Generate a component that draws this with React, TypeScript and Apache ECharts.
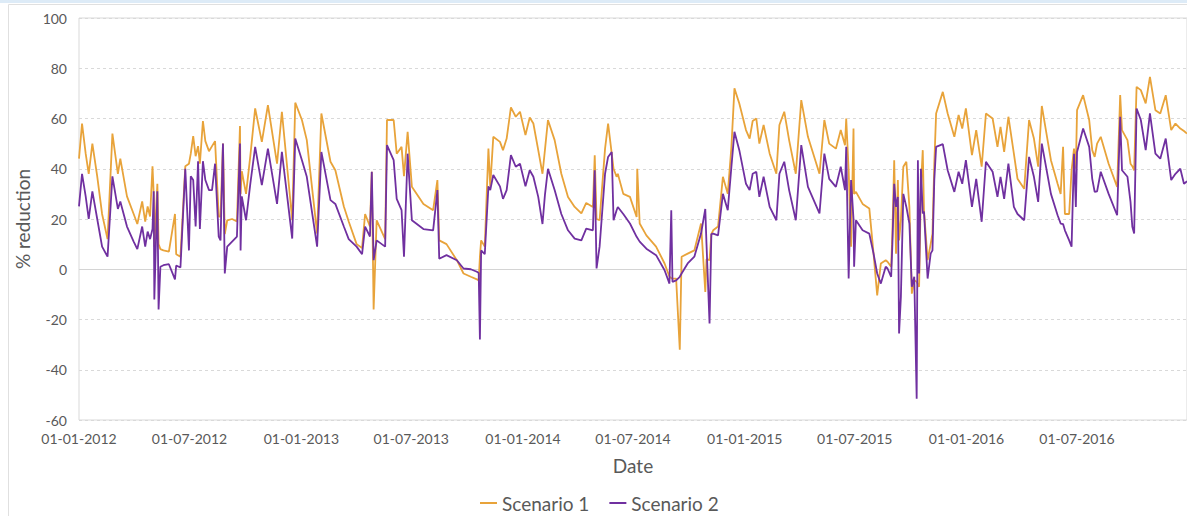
import React, { useEffect, useRef } from "react";
import * as echarts from "echarts";

const dates: string[] = [
  "2012-01-01","2012-01-06","2012-01-12","2012-01-17","2012-01-23","2012-01-31","2012-02-08","2012-02-17","2012-02-25","2012-03-05",
  "2012-03-09","2012-03-20","2012-03-31","2012-04-06","2012-04-14","2012-04-19","2012-04-23","2012-04-27","2012-05-01","2012-05-03",
  "2012-05-04","2012-05-09","2012-05-11","2012-05-14","2012-05-19","2012-05-28","2012-06-07","2012-06-09","2012-06-16","2012-06-24",
  "2012-06-30","2012-07-03","2012-07-07","2012-07-11","2012-07-15","2012-07-18","2012-07-23","2012-07-27","2012-08-02","2012-08-07",
  "2012-08-12","2012-08-18","2012-08-21","2012-08-25","2012-08-28","2012-09-01","2012-09-09","2012-09-17","2012-09-22","2012-09-23",
  "2012-09-25","2012-10-02","2012-10-09","2012-10-17","2012-10-28","2012-11-07","2012-11-22","2012-11-30","2012-12-17","2012-12-22",
  "2013-01-02","2013-01-10","2013-01-27","2013-02-03","2013-02-18","2013-02-26","2013-03-12","2013-03-20","2013-04-02","2013-04-11",
  "2013-04-16","2013-04-24","2013-04-27","2013-04-30","2013-05-05","2013-05-19","2013-05-22","2013-06-02","2013-06-07","2013-06-15",
  "2013-06-19","2013-06-25","2013-07-02","2013-07-21","2013-08-06","2013-08-13","2013-08-16","2013-08-28","2013-09-14","2013-09-25",
  "2013-10-07","2013-10-17","2013-10-20","2013-10-22","2013-10-24","2013-10-30","2013-11-05","2013-11-08","2013-11-13","2013-11-24",
  "2013-11-29","2013-12-05","2013-12-12","2013-12-20","2013-12-27","2014-01-05","2014-01-12","2014-01-18","2014-01-26","2014-02-02",
  "2014-02-06","2014-02-11","2014-02-22","2014-03-05","2014-03-16","2014-03-27","2014-04-07","2014-04-15","2014-04-26","2014-04-29",
  "2014-05-02","2014-05-07","2014-05-16","2014-05-21","2014-05-27","2014-05-30","2014-06-04","2014-06-06","2014-06-15","2014-06-26",
  "2014-07-07","2014-07-08","2014-07-12","2014-07-23","2014-08-08","2014-08-22","2014-08-30","2014-09-02","2014-09-04","2014-09-10",
  "2014-09-16","2014-09-19","2014-09-29","2014-10-10","2014-10-21","2014-10-28","2014-10-30","2014-11-04","2014-11-07","2014-11-10",
  "2014-11-18","2014-11-26","2014-12-04","2014-12-10","2014-12-15","2014-12-23","2015-01-03","2015-01-09","2015-01-14","2015-01-20",
  "2015-01-25","2015-02-01","2015-02-11","2015-02-22","2015-02-27","2015-03-07","2015-03-15","2015-03-26","2015-04-04","2015-04-15",
  "2015-05-04","2015-05-12","2015-05-20","2015-05-31","2015-06-08","2015-06-15","2015-06-17","2015-06-21","2015-06-25","2015-06-29",
  "2015-06-30","2015-07-03","2015-07-14","2015-07-25","2015-08-01","2015-08-07","2015-08-13","2015-08-21","2015-08-24","2015-08-30",
  "2015-09-01","2015-09-04","2015-09-07","2015-09-10","2015-09-12","2015-09-15","2015-09-19","2015-09-24","2015-09-29","2015-10-03",
  "2015-10-07","2015-10-11","2015-10-13","2015-10-15","2015-10-18","2015-10-21","2015-10-23","2015-10-29","2015-11-03","2015-11-06",
  "2015-11-09","2015-11-12","2015-11-23","2015-12-01","2015-12-12","2015-12-19","2015-12-25","2015-12-31","2016-01-10","2016-01-17",
  "2016-01-26","2016-02-02","2016-02-13","2016-02-21","2016-02-26","2016-03-03","2016-03-10","2016-03-19","2016-03-25","2016-04-05",
  "2016-04-13","2016-04-21","2016-04-28","2016-05-04","2016-05-19","2016-05-30","2016-06-04","2016-06-08","2016-06-11","2016-06-18",
  "2016-06-22","2016-06-26","2016-06-29","2016-07-01","2016-07-11","2016-07-21","2016-07-26","2016-07-30","2016-08-03","2016-08-09",
  "2016-08-22","2016-09-05","2016-09-10","2016-09-13","2016-09-22","2016-09-27","2016-09-30","2016-10-03","2016-10-07","2016-10-14",
  "2016-10-22","2016-10-29","2016-11-07","2016-11-15","2016-11-24","2016-12-03","2016-12-10","2016-12-18","2016-12-24","2016-12-29"
];

const scenario1: number[] = [
  44,58,46,38,50,37,22,12,54,38,
  44,29,22,18,27,19,25,21,41,30,
  9,34,10,8,7.5,7,22,6,5,41,
  42,46,53,45,49,42,59,51,47,49,
  51,21,21,50,14,19.5,20,19,57,30,
  39,30,45,64,50.7,65.3,42,62.7,19.5,66.3,
  59.4,51.4,14.2,62,42.8,39.4,25,19,10,8.5,
  22,17,38.8,-16,19.5,12,59.4,59.4,46,48.7,
  37,54.7,32.8,26,23.5,35.5,11.5,10,3.6,-1.7,
  -3,-4,-4.5,5,11.5,9,48,33,52.7,50.7,
  47.4,52,64.4,60.7,62.7,53.4,60.4,58,47.4,38,
  47.4,59.4,51.4,38,28.8,24.8,22.2,26.4,24.8,45.4,
  20,19.5,48,58,46,40,36.8,38,30,28.8,
  20.8,40,18.2,13.5,9,2.3,-3,-3.5,-3.7,-3.7,
  -32,5,6.2,7.5,18.2,-9,4,3.6,14,15.5,
  17,36.8,30,48.7,72,66,55.4,52,59,60,
  50,57.4,46,38,57.4,62.7,51.4,38,67.3,52.7,
  38,59.4,50,48,55.4,49.4,60,39.4,9,56,
  30,30.8,26,24.2,6.2,-10.4,2.3,3.6,3,1,
  14.2,43.4,6.2,35.5,11.5,19.5,40.8,42.8,24.8,-9.7,
  -4.4,-5,-6,-7,32.8,47.4,23.5,3.6,10,14.2,
  42,62,70.6,62,52.7,61.4,56,64,45.4,55.4,
  40.8,62,60,48.7,56.7,46.7,60.7,46,36,32,
  59.4,52,40.8,65,43.4,34,30,48.7,22,22,
  39.4,48,40,63.3,69.3,59.4,47.4,44.7,50,52.7,
  42,32.8,69.3,55.4,51.4,42,41,39.4,72.6,71.3,
  66,76.6,63.3,62,69.3,55.4,58,56,55,54
];

const scenario2: number[] = [
  25,38,29,20,31,20,9,5,37,24,
  27,17,11,8,17,9,15,12,16,31,
  -12,31,-16,1,1.6,2,-4,1.5,0.7,40,
  7.5,37,35.5,17,43,16,43,35.5,31.5,31.5,
  42,13,11.5,50,-1.7,9,11,13,50,7.5,
  29,19.5,34,48.7,33.5,48,26,46.7,12.2,52,
  43.4,36.8,9,46.7,27.5,26,17,12,9,6,
  17,13,38.8,3.6,11.5,9,49.4,43.4,28,23.5,
  5,46,19.5,16,15.5,31.5,4.2,5.6,3.6,0.3,
  0,-1,-1.5,-28,7.5,6,33,31.5,37.5,33,
  28,31.5,45.4,40.8,42,33,39.4,36.8,28.8,18,
  29.5,40,31.5,22,15.5,12.2,11.5,16.2,15.5,39.4,
  0.3,9,38,44.7,46.7,19.5,23.5,24.8,22,18.2,
  12.9,12.9,11,8.2,5.6,-0.4,-5.7,23.5,-5,-4.4,
  -3,-1.7,2.3,5,14.2,24,10,-21.6,14,14.2,
  13.5,30,23.5,40.8,54.7,47.4,34,31.5,38,38.8,
  28.8,36.8,24.8,19.5,38,42.8,31.5,19.5,49.4,32.8,
  22.2,46,36,32.8,40.8,31.5,48.7,-3.7,35.5,20,
  1,19.5,15.5,14.2,6.2,-1.7,-5.7,1,0.3,-3,
  10,34,24.8,28.8,-25.6,-11,30,24.8,18.2,-7,
  -3,-51.5,43.4,-1.7,40,22.2,23,-3.7,6.2,7.5,
  35.5,48.7,49.8,39.4,30.8,38.8,34,43.4,24.8,36,
  18.9,42.8,38.8,28.8,36.8,28,42,24.8,22,19.5,
  44.7,36.8,26.8,50,30,21.5,18.2,18,15.5,11.5,
  9,46,24.8,46.7,56,48.7,36,30.8,31,38.8,
  30,21.5,60.7,39.4,36.8,26.8,16.9,14.2,64,59.4,
  47.4,62,46,44,52,35.5,38,40,34,35
];

const xTickDates: string[] = [
  "2012-01-01","2012-07-01","2013-01-01","2013-07-01","2014-01-01",
  "2014-07-01","2015-01-01","2015-07-01","2016-01-01","2016-07-01"
];
const xStart = "2012-01-01";
const xEnd = "2016-12-29";
const seriesNames = ["Scenario 1", "Scenario 2"];

const FONT = "Lato, 'Open Sans', sans-serif";
const TXT = "#595959";

function fmtDate(v: number): string {
  const d = new Date(v);
  const dd = String(d.getUTCDate()).padStart(2, "0");
  const mm = String(d.getUTCMonth() + 1).padStart(2, "0");
  return `${dd}-${mm}-${d.getUTCFullYear()}`;
}

export default function App() {
  const ref = useRef<HTMLDivElement>(null);
  useEffect(() => {
    if (!ref.current) return;
    const chart = echarts.init(ref.current, null, { renderer: "svg" });
    const t = dates.map((d) => Date.parse(d));
    chart.setOption({
      animation: false,
      backgroundColor: "#ffffff",
      textStyle: { fontFamily: FONT },
      graphic: [
        { type: "rect", silent: true, shape: { x: 0, y: 0, width: 1187, height: 3 }, style: { fill: "#DDEBF7" } },
        { type: "rect", silent: true, shape: { x: 8.5, y: 4.5, width: 1200, height: 600 }, style: { fill: "none", stroke: "#E0E0E0", lineWidth: 1 } },
      ],
      grid: { left: 79, top: 18, right: -3, height: 402, show: true, borderColor: "#D9D9D9", borderWidth: 1, backgroundColor: "transparent" },
      legend: {
        data: seriesNames,
        left: 480,
        top: 492,
        padding: 0,
        icon: "rect",
        itemWidth: 17,
        itemHeight: 2,
        itemGap: 20,
        textStyle: { fontSize: 19, color: TXT, fontFamily: FONT, lineHeight: 22 },
      },
      xAxis: {
        type: "value",
        min: Date.parse(xStart),
        max: Date.parse(xEnd),
        name: "Date",
        nameLocation: "middle",
        nameGap: 36,
        nameTextStyle: { fontSize: 19, color: TXT, fontFamily: FONT },
        axisLine: { show: false },
        axisTick: { show: false },
        splitLine: { show: false },
        axisLabel: {
          customValues: xTickDates.map((d) => Date.parse(d)),
          formatter: (v: number) => fmtDate(v),
          fontSize: 14,
          color: TXT,
          margin: 11,
          fontFamily: FONT,
        },
      },
      yAxis: {
        type: "value",
        min: -60,
        max: 100,
        interval: 20,
        name: "% reduction",
        nameLocation: "middle",
        nameGap: 41,
        nameTextStyle: { fontSize: 19, color: TXT, fontFamily: FONT },
        axisLine: { show: false },
        axisTick: { show: false },
        axisLabel: { fontSize: 14, color: TXT, margin: 12, fontFamily: FONT },
        splitLine: { lineStyle: { color: "#D9D9D9", type: [3, 3], width: 1 } },
      },
      series: [
        {
          name: seriesNames[0],
          type: "line",
          showSymbol: false,
          symbol: "none",
          data: t.map((x, i) => [x, scenario1[i]]),
          lineStyle: { color: "#E8A33A", width: 1.8 },
          itemStyle: { color: "#E8A33A" },
          markLine: {
            silent: true,
            z: 1,
            symbol: "none",
            label: { show: false },
            lineStyle: { color: "#D4D4D4", type: "solid", width: 1.2 },
            data: [{ yAxis: 0 }],
          },
        },
        {
          name: seriesNames[1],
          type: "line",
          showSymbol: false,
          symbol: "none",
          data: t.map((x, i) => [x, scenario2[i]]),
          lineStyle: { color: "#7030A0", width: 1.8 },
          itemStyle: { color: "#7030A0" },
        },
      ],
    });
    return () => chart.dispose();
  }, []);
  return <div ref={ref} style={{ position: "absolute", left: 0, top: 0, width: 1187, height: 516 }} />;
}
